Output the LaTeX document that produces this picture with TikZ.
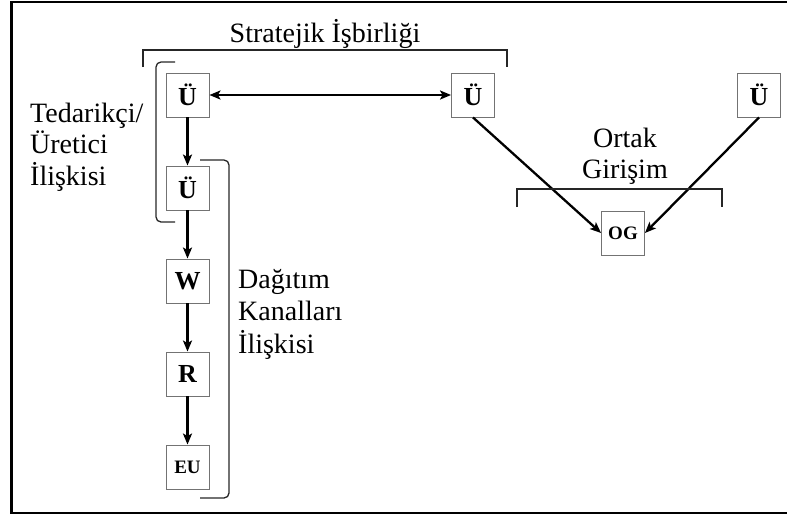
\documentclass[tikz,border=0pt]{standalone}
\usepackage{fontspec}
\setmainfont{Liberation Serif}
\usetikzlibrary{arrows.meta}
\begin{document}
\begin{tikzpicture}[x=1pt,y=-1pt,
  unit/.style={draw=black!55,line width=0.9pt,minimum width=43pt,minimum height=44pt,inner sep=0pt,font=\fontsize{26}{26}\selectfont\bfseries},
  smallunit/.style={unit,font=\fontsize{19}{19}\selectfont\bfseries},
  tip/.style={Stealth[length=11pt,width=9pt,inset=2.5pt]},
  flow/.style={line width=2.3pt,-{Stealth[length=11pt,width=9pt,inset=2.5pt]}},
  twoway/.style={line width=2.3pt,{Stealth[length=11pt,width=9pt,inset=2.5pt]}-{Stealth[length=11pt,width=9pt,inset=2.5pt]}},
  brace/.style={line width=1.3pt,black!85},
  lbl/.style={font=\fontsize{28}{28}\selectfont,inner sep=0pt}]
\useasboundingbox (0,0) rectangle (787,515);
\clip (0,0) rectangle (787,515);
% outer frame
\draw[line width=2.2pt] (11.5,2) rectangle (800,513);

% units
\node[unit] (u1) at (187.5,95) {Ü};
\node[unit] (u2) at (187.5,188) {Ü};
\node[unit] (w) at (187.5,281) {W};
\node[unit] (r) at (187.5,374) {R};
\node[smallunit] (eu) at (187.5,467) {EU};
\node[unit] (u3) at (473,95) {Ü};
\node[unit] (u4) at (759,95) {Ü};
\node[smallunit] (og) at (623,233) {OG};

% connectors
\draw[twoway] (u1) -- (u3);
\draw[flow] (u1) -- (u2);
\draw[flow] (u2) -- (w);
\draw[flow] (w) -- (r);
\draw[flow] (r) -- (eu);
\draw[flow] (u3.south) -- (og.west);
\draw[flow] (u4.south) -- (og.east);

% brackets
\draw[brace] (143,67) -- (143,50) -- (507,50) -- (507,67);
\draw[brace,rounded corners=5pt] (175,62) -- (156,62) -- (156,222) -- (175,222);
\draw[brace,rounded corners=5pt] (200,160) -- (229,160) -- (229,498) -- (200,498);
\draw[brace] (517,207) -- (517,189) -- (722,189) -- (722,207);

% labels
\node[lbl,anchor=base] (s1) at (325,42) {Stratejik İşbirliği};
\node[lbl,anchor=base west] (t1) at (30,122) {Tedarikçi/};
\node[lbl,anchor=base west] (t2) at (30,153.5) {Üretici};
\node[lbl,anchor=base west] (t3) at (30,185) {İlişkisi};
\node[lbl,anchor=base west] (d1) at (238,288) {Dağıtım};
\node[lbl,anchor=base west] (d2) at (238,320.5) {Kanalları};
\node[lbl,anchor=base west] (d3) at (238,353) {İlişkisi};
\node[lbl,anchor=base] (o1) at (625,147) {Ortak};
\node[lbl,anchor=base] (o2) at (625,178.5) {Girişim};
\end{tikzpicture}
\end{document}
